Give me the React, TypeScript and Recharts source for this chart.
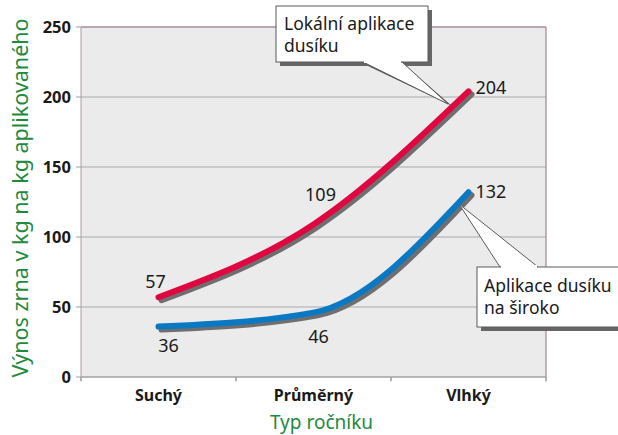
import { LineChart, Line, XAxis, YAxis, CartesianGrid, ReferenceLine, LabelList } from "recharts";

const categories = ["Suchý", "Průměrný", "Vlhký"];
const localValues = [57, 109, 204];
const broadValues = [36, 46, 132];
const yTicks = [0, 50, 100, 150, 200, 250];
const bandEdges = [0, 1, 2, 3];

const data = categories.map((name, i) => ({
  name,
  idx: i + 0.5,
  local: localValues[i],
  broad: broadValues[i],
}));

const FONT = "'Noto Sans', 'DejaVu Sans', sans-serif";
const GREEN = "#1f8a3e";

// where each value label sits relative to its point
const localOffsets = [
  { dx: -3, dy: -9, anchor: "middle" },
  { dx: 7, dy: -23, anchor: "middle" },
  { dx: 7, dy: 3, anchor: "start" },
];
const broadOffsets = [
  { dx: 10, dy: 25, anchor: "middle" },
  { dx: 5, dy: 30, anchor: "middle" },
  { dx: 7, dy: 6, anchor: "start" },
];

const makeLabel = (offsets: any[]) => (props: any) => {
  const { x, y, value, index } = props;
  const o = offsets[index];
  return (
    <text
      x={x + o.dx}
      y={y + o.dy}
      textAnchor={o.anchor}
      fontFamily={FONT}
      fontSize={18}
      fill="#1a1a1a"
    >
      {value}
    </text>
  );
};

const Callouts = () => (
  <svg
    width={618}
    height={435}
    style={{ position: "absolute", left: 0, top: 0, pointerEvents: "none" }}
  >
    {/* Lokální aplikace */}
    <polygon points="368,66 452,106 406,66" fill="#555" />
    <rect x={280} y={10} width={152} height={56} fill="#666" />
    <polygon points="363,62 448,104 402,62" fill="#fff" stroke="#5b5b5b" strokeWidth={1} />
    <rect x={276} y={6} width={152} height={56} fill="#fff" stroke="#5b5b5b" strokeWidth={1} />
    <rect x={364} y={60} width={37} height={3} fill="#fff" />
    <text x={284} y={30} fontFamily={FONT} fontSize={17.5} fill="#1a1a1a">
      Lokální aplikace
    </text>
    <text x={284} y={52} fontFamily={FONT} fontSize={17.5} fill="#1a1a1a">
      dusíku
    </text>

    {/* Aplikace na široko */}
    <rect x={481} y={271} width={140} height={60} fill="#666" />
    <polygon points="500,267 459,204 538,267" fill="#fff" stroke="#5b5b5b" strokeWidth={1} />
    <rect x={477} y={267} width={145} height={60} fill="#fff" stroke="#5b5b5b" strokeWidth={1} />
    <rect x={501} y={265} width={36} height={3} fill="#fff" />
    <text x={484} y={292} fontFamily={FONT} fontSize={17.5} fill="#1a1a1a">
      Aplikace dusíku
    </text>
    <text x={484} y={314} fontFamily={FONT} fontSize={17.5} fill="#1a1a1a">
      na široko
    </text>
  </svg>
);

export default function App() {
  return (
    <div style={{ position: "absolute", left: 0, top: 0, width: 618, height: 435, background: "#fff" }}>
      <style>{`
        .red-line .recharts-line-curve { filter: drop-shadow(3px 3px 0px #6f6f6f); }
        .blue-line .recharts-line-curve { filter: drop-shadow(3px 3px 0px #6f6f6f); }
      `}</style>
      <LineChart
        width={618}
        height={435}
        data={data}
        margin={{ top: 27, right: 72, bottom: 0, left: 0 }}
      >
        <CartesianGrid
          vertical={false}
          stroke="#a9a9a9"
          fill="#ebebeb"
          strokeWidth={1}
        />
        <XAxis
          xAxisId="grid"
          type="number"
          dataKey="idx"
          domain={[0, 3]}
          ticks={bandEdges}
          tick={false}
          tickLine={false}
          axisLine={false}
          height={0}
        />
        <XAxis
          xAxisId="cat"
          dataKey="name"
          scale="band"
          height={58}
          tickLine={false}
          axisLine={{ stroke: "#a0a0a0" }}
          tickMargin={7}
          tick={{ fontFamily: FONT, fontSize: 16, fontWeight: 700, fill: "#1a1a1a" }}
          label={{
            content: (p: any) => (
              <text
                x={p.viewBox.x + p.viewBox.width / 2 + 8}
                y={p.viewBox.y + 52}
                textAnchor="middle"
                fontFamily={FONT}
                fontSize={19}
                fill={GREEN}
              >
                Typ ročníku
              </text>
            ),
          }}
        />
        <YAxis
          width={81}
          domain={[0, 250]}
          ticks={yTicks}
          interval={0}
          tickSize={5}
          tickMargin={5}
          tickLine={{ stroke: "#a0a0a0" }}
          axisLine={{ stroke: "#ad9ca6" }}
          tick={{ fontFamily: FONT, fontSize: 16.5, fontWeight: 700, fill: "#1a1a1a" }}
          label={{
            content: (p: any) => {
              const cx = 19;
              const cy = p.viewBox.y + p.viewBox.height / 2 - 4;
              return (
                <text
                  x={cx}
                  y={cy}
                  transform={`rotate(-90 ${cx} ${cy})`}
                  textAnchor="middle"
                  dominantBaseline="central"
                  fontFamily={FONT}
                  fontSize={21.5}
                  fill={GREEN}
                >
                  Výnos zrna v kg na kg aplikovaného
                </text>
              );
            },
          }}
        />
        {bandEdges.map((e) => (
          <ReferenceLine
            key={e}
            xAxisId="grid"
            segment={[
              { x: e, y: 0 },
              { x: e, y: -3 },
            ]}
            ifOverflow="visible"
            stroke="#9a9a9a"
            strokeWidth={1.5}
          />
        ))}
        <ReferenceLine xAxisId="cat" y={250} stroke="#b59aa8" strokeWidth={1.5} />
        <ReferenceLine xAxisId="grid" x={3} stroke="#b59aa8" strokeWidth={1.5} />
        <Line
          xAxisId="cat"
          className="red-line"
          type="monotone"
          dataKey="local"
          stroke="#e0063f"
          strokeWidth={6}
          strokeLinecap="round"
          dot={false}
          activeDot={false}
          isAnimationActive={false}
        >
          <LabelList dataKey="local" content={makeLabel(localOffsets)} />
        </Line>
        <Line
          xAxisId="cat"
          className="blue-line"
          type="monotone"
          dataKey="broad"
          stroke="#0a79c4"
          strokeWidth={6}
          strokeLinecap="round"
          dot={false}
          activeDot={false}
          isAnimationActive={false}
        >
          <LabelList dataKey="broad" content={makeLabel(broadOffsets)} />
        </Line>
      </LineChart>
      <Callouts />
    </div>
  );
}
